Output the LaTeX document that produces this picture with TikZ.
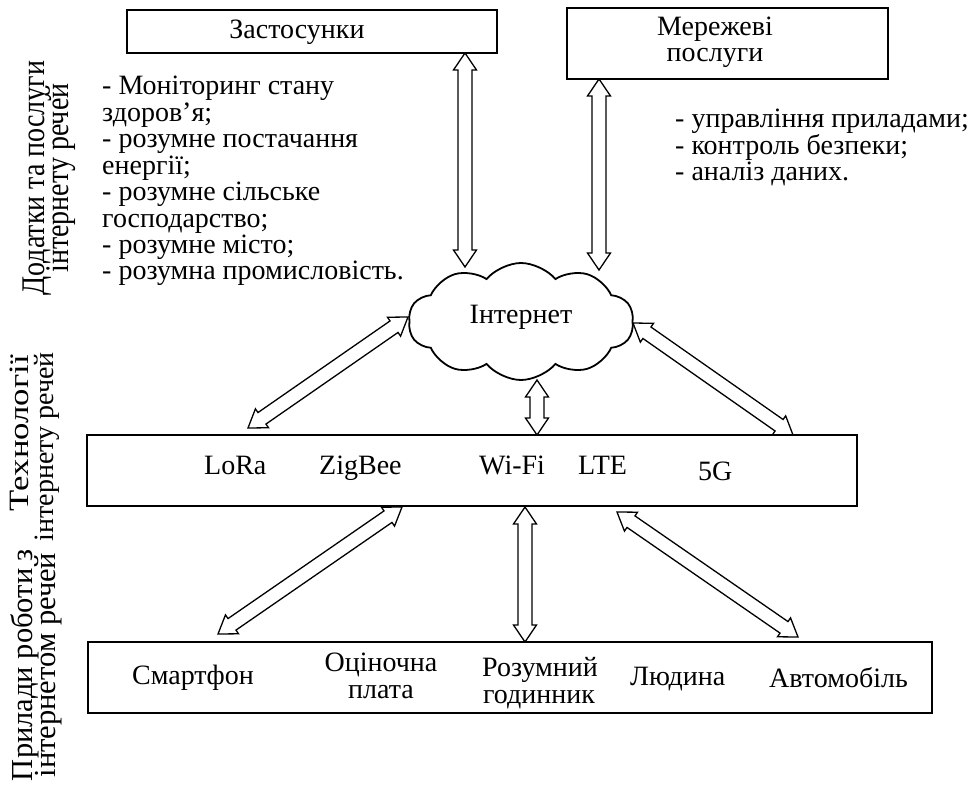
\documentclass[tikz,border=0pt]{standalone}
\usepackage{fontspec}
\setmainfont{Liberation Serif}
\usetikzlibrary{shapes.symbols,calc}
\tikzset{
  box/.style={draw, line width=1.8pt, inner sep=0pt},
  txt/.style={inner sep=0pt, font=\fontsize{28}{26.5}\selectfont},
  rot/.style={inner sep=0pt, rotate=90, font=\fontsize{28}{24}\selectfont},
  rotbig/.style={inner sep=0pt, rotate=90, font=\fontsize{30.5}{24}\selectfont},
  darr/.style={draw, line width=1.3pt, line join=miter},
  inet/.style={cloud, cloud puffs=10, cloud puff arc=100, cloud ignores aspect, draw, line width=1.8pt,
    minimum width=225pt, minimum height=117pt, inner sep=0pt, font=\fontsize{28}{26.5}\selectfont},
}
\newcommand\stretchy[1]{\scalebox{1}[1.18]{#1}}
\newcommand\dbarrow[2]{%
  \path let \p1=(#1), \p2=(#2) in \pgfextra{%
    \pgfmathsetmacro\dbangtmp{atan2(\y2-\y1,\x2-\x1)}%
    \pgfmathsetmacro\dblentmp{veclen(\x2-\x1,\y2-\y1)}%
    \xdef\dbang{\dbangtmp}\xdef\dblen{\dblentmp}};
  \pgfmathsetmacro\dbb{\dblen-17}%
  \begin{scope}[shift={(#1)}, rotate=\dbang]
    \draw[darr] (0pt,0pt) -- (17pt,11.5pt) -- (17pt,7pt) -- (\dbb pt,7pt) -- (\dbb pt,11.5pt)
      -- (\dblen pt,0pt) -- (\dbb pt,-11.5pt) -- (\dbb pt,-7pt) -- (17pt,-7pt) -- (17pt,-11.5pt) -- cycle;
  \end{scope}}
\begin{document}
\begin{tikzpicture}[x=1pt,y=-1pt]
\fill[white] (0,0) rectangle (975,789);
\useasboundingbox (0,0) rectangle (975,789);

% boxes
\node[box, minimum width=370pt, minimum height=43pt] (app) at (312,31.5) {};
\node[box, minimum width=321pt, minimum height=71pt] (net) at (727.5,43.5) {};
\node[box, minimum width=770pt, minimum height=71pt] (tech) at (472,470.5) {};
\node[box, minimum width=844pt, minimum height=71pt] (dev) at (510,677.5) {};
\node[inet] (cloud) at (521,321.5) {};
\node[txt, anchor=base] (cloudT) at (521,323) {Інтернет};

% box texts
\node[txt, anchor=base] (appT) at (297,39) {Застосунки};
\node[txt, anchor=base] (netT1) at (715,36) {Мережеві};
\node[txt, anchor=base] (netT2) at (715,62) {послуги};

% left list
\foreach \t [count=\i from 0] in {- Моніторинг стану,здоров’я;,- розумне постачання,енергії;,- розумне сільське,господарство;,- розумне місто;,- розумна промисловість.}
  \node[txt, anchor=base west] (la\i) at (102,95+26.4*\i) {\t};
% right list
\foreach \t [count=\i from 0] in {- управління приладами;,- контроль безпеки;,- аналіз даних.}
  \node[txt, anchor=base west] (lb\i) at (675,128+26.3*\i) {\t};

% technologies
\node[txt, anchor=base west] (lora) at (204,474) {LoRa};
\node[txt, anchor=base west] (zig) at (319,474) {ZigBee};
\node[txt, anchor=base west] (wifi) at (479,474) {Wi-Fi};
\node[txt, anchor=base west] (lte) at (578,474) {LTE};
\node[txt, anchor=base west] (g5) at (698,480) {5G};

% devices
\node[txt, anchor=base west] (smart) at (132,684) {Смартфон};
\node[txt, anchor=base] (eval1) at (381,671) {Оціночна};
\node[txt, anchor=base] (eval2) at (381,698) {плата};
\node[txt, anchor=base] (watch1) at (540,676) {Розумний};
\node[txt, anchor=base] (watch2) at (539,703) {годинник};
\node[txt, anchor=base west] (human) at (630,685) {Людина};
\node[txt, anchor=base west] (car) at (769,687) {Автомобіль};

% rotated side labels
\node[rot, anchor=base] (r1a) at (44,178) {\stretchy{Додатки та послуги}};
\node[rot, anchor=base] (r1b) at (68,178) {\stretchy{інтернету речей}};
\node[rot, anchor=base east] (r2a) at (28,355) {\scalebox{1.24}[1]{Технології}};
\node[rot, anchor=base east] (r2b) at (53,352) {інтернету речей};
\node[rotbig, anchor=base] (r3a) at (32,665) {Прилади роботи з};
\node[rotbig, anchor=base] (r3b) at (55,665) {інтернетом речей};

% arrow end points
\coordinate (a1s) at (465,53);  \coordinate (a1e) at (465,267);
\coordinate (a2s) at (599,79);  \coordinate (a2e) at (599,270);
\coordinate (a3s) at (408,317); \coordinate (a3e) at (248,428);
\coordinate (a4s) at (633,323); \coordinate (a4e) at (793,435);
\coordinate (a5s) at (537,380); \coordinate (a5e) at (537,435);
\coordinate (a6s) at (402,507); \coordinate (a6e) at (218,634);
\coordinate (a7s) at (525,507); \coordinate (a7e) at (525,642);
\coordinate (a8s) at (617,512); \coordinate (a8e) at (798,637);

\dbarrow{a1s}{a1e}
\dbarrow{a2s}{a2e}
\dbarrow{a3s}{a3e}
\dbarrow{a4s}{a4e}
\dbarrow{a5s}{a5e}
\dbarrow{a6s}{a6e}
\dbarrow{a7s}{a7e}
\dbarrow{a8s}{a8e}
\end{tikzpicture}
\end{document}
